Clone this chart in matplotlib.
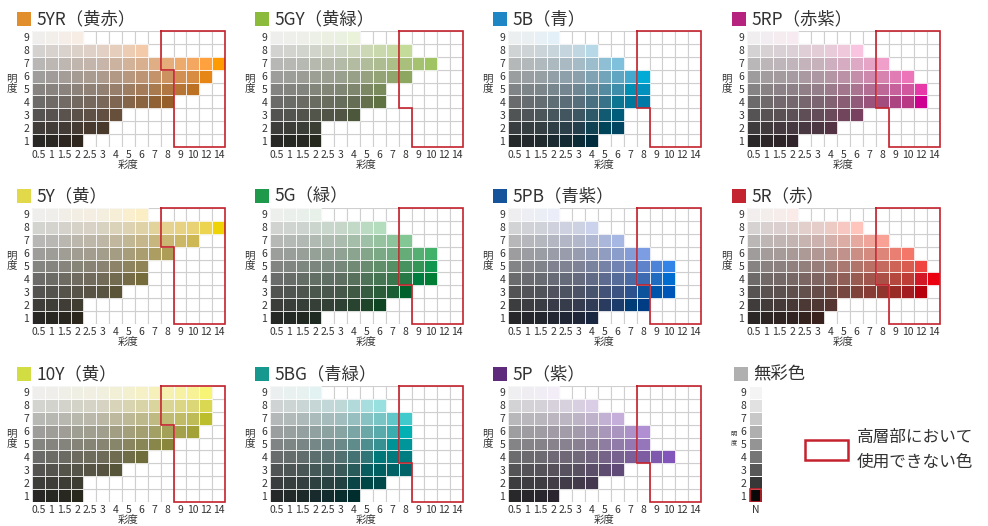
import numpy as np
import matplotlib
matplotlib.use('Agg')
import matplotlib.pyplot as plt
import matplotlib.transforms as mtransforms
from matplotlib.patches import Rectangle

plt.rcParams['font.family'] = ['Noto Sans CJK JP', 'DejaVu Sans']

# Munsell grid: chroma columns and value rows
chroma_labels = ['0.5', '1', '1.5', '2', '2.5', '3', '4', '5', '6', '7', '8', '9', '10', '12', '14']
chroma_vals = [0.5, 1, 1.5, 2, 2.5, 3, 4, 5, 6, 7, 8, 9, 10, 12, 14]
value_levels = [1, 2, 3, 4, 5, 6, 7, 8, 9]

hue_codes = ['5YR', '5GY', '5B', '5RP', '5Y', '5G', '5PB', '5R', '10Y', '5BG', '5P']
hue_names = ['黄赤', '黄緑', '青', '赤紫', '黄', '緑', '青紫', '赤', '黄', '青緑', '紫']

# highest chroma shown for value 1..9
max_5YR = [2, 3, 4, 8, 10, 12, 14, 6, 2]
max_5GY = [2, 2, 4, 6, 6, 8, 10, 8, 4]
max_5B = [4, 6, 6, 8, 8, 8, 6, 4, 2]
max_5RP = [2, 4, 6, 12, 12, 10, 8, 6, 2]
max_5Y = [2, 2, 4, 6, 6, 8, 10, 14, 6]
max_5G = [2, 6, 8, 10, 10, 10, 8, 6, 2]
max_5PB = [4, 8, 10, 10, 10, 8, 6, 4, 2]
max_5R = [3, 4, 12, 14, 12, 10, 8, 6, 2]
max_10Y = [2, 2, 4, 6, 8, 10, 12, 12, 12]
max_5BG = [4, 6, 8, 8, 8, 8, 8, 6, 2]
max_5P = [2, 4, 6, 10, 8, 8, 6, 4, 2]
max_chroma = [max_5YR, max_5GY, max_5B, max_5RP, max_5Y, max_5G,
              max_5PB, max_5R, max_10Y, max_5BG, max_5P]

# value from which chroma 8 is already not usable
limit_value = [7, 4, 4, 4, 7, 4, 4, 4, 7, 4, 4]

# achromatic scale N1..N9
neutral_gray = [8, 55, 88, 118, 148, 175, 200, 225, 244]

# styling
hue_angle = [66, 122, 236, 345, 95, 150, 280, 33, 104, 198, 310]
swatch = ['#e08f2c', '#8cbb3c', '#1f86c6', '#b5237e', '#e1d94a', '#1f9a4c',
          '#15549a', '#c42430', '#d2dc43', '#17988f', '#5e2a7c']
red = '#c4232d'
txt = '#333333'

W, H = 988, 526
fig = plt.figure(figsize=(W / 100, H / 100), dpi=100)


def px_axes(left, top, w, h):
    return fig.add_axes([left / W, 1 - (top + h) / H, w / W, h / H])


def lab_to_rgb(L, a, b):
    fy = (L + 16) / 116
    fx = fy + a / 500
    fz = fy - b / 200

    def finv(t):
        return t ** 3 if t > 6 / 29 else 3 * (6 / 29) ** 2 * (t - 4 / 29)
    X, Y, Z = 0.95047 * finv(fx), finv(fy), 1.08883 * finv(fz)
    r = 3.2406 * X - 1.5372 * Y - 0.4986 * Z
    g = -0.9689 * X + 1.8758 * Y + 0.0415 * Z
    bb = 0.0557 * X - 0.2040 * Y + 1.0570 * Z
    out = []
    for c in (r, g, bb):
        c = min(max(c, 0), 1)
        c = 12.92 * c if c <= 0.0031308 else 1.055 * c ** (1 / 2.4) - 0.055
        out.append(min(max(c, 0), 1))
    return tuple(out)


def cell_color(angle, value, chroma):
    # approximate look of the printed Munsell chips
    L = 6 + 9.8 * value
    C = chroma * (2.5 + 0.3 * chroma) * (1.3 - 0.05 * value)
    h = np.radians(angle)
    return lab_to_rgb(L, C * np.cos(h), C * np.sin(h))


lefts = [32, 270, 508, 747]
tops = [31, 208, 386]
gw, gh = 193, 116
xs = np.arange(len(chroma_vals))


def title(ax_left, ax_top, label, color):
    fig.add_artist(Rectangle(((ax_left - 15) / W, 1 - (ax_top - 5) / H), 14 / W, 14 / H,
                             transform=fig.transFigure, facecolor=color, edgecolor='none'))
    fig.text((ax_left + 4) / W, 1 - (ax_top - 12) / H, label, fontsize=12.5,
             color=txt, ha='left', va='center')


for i, code in enumerate(hue_codes):
    left = lefts[i % 4]
    top = tops[i // 4]
    ax = px_axes(left, top, gw, gh)
    # empty grid
    for v in value_levels:
        ax.bar(xs, 1, bottom=v - 0.5, width=1, color='white', edgecolor='#cfcfcf', linewidth=0.8)
    # colored cells
    for v, mc in zip(value_levels, max_chroma[i]):
        n = sum(c <= mc for c in chroma_vals)
        cols = [cell_color(hue_angle[i], v, c) for c in chroma_vals[:n]]
        ax.bar(xs[:n], 1, bottom=v - 0.5, width=1, color=cols,
               edgecolor=(1, 1, 1, 0.75), linewidth=0.7)
    # region not usable for high-rise parts
    k = chroma_vals.index(8)
    lv = limit_value[i]
    ox = [k - 0.5, xs[-1] + 0.5, xs[-1] + 0.5, k + 0.5, k + 0.5, k - 0.5, k - 0.5]
    oy = [9.5, 9.5, 0.5, 0.5, lv - 0.5, lv - 0.5, 9.5]
    ax.plot(ox, oy, color=red, linewidth=1.2, clip_on=False, solid_joinstyle='miter')

    ax.set_xlim(-0.5, len(chroma_vals) - 0.5)
    ax.set_ylim(0.5, 9.5)
    ax.set_xticks(xs)
    ax.set_xticklabels(chroma_labels)
    ax.set_yticks(value_levels)
    ax.tick_params(length=0, labelsize=7.5, labelcolor=txt, pad=2)
    for s in ax.spines.values():
        s.set_visible(False)
    ax.set_xlabel('彩度', fontsize=7.5, color=txt, labelpad=0)
    trans = mtransforms.blended_transform_factory(ax.transAxes, ax.transData)
    ax.text(-0.105, 5.45, '明\n度', transform=trans, fontsize=7.5, color=txt,
            ha='center', va='center', linespacing=0.95)
    title(left, top, f'{code}（{hue_names[i]}）', swatch[i])

# achromatic column
left, top = 749, 386
ax = px_axes(left, top, 13, gh)
ax.bar([0] * 9, 1, bottom=[v - 0.5 for v in value_levels], width=1,
       color=[str(g / 255) for g in neutral_gray], edgecolor='white', linewidth=0.7)
ax.bar([0], 1, bottom=0.5, width=0.9, color='none', edgecolor=red, linewidth=1.2)
ax.set_xlim(-0.5, 0.5)
ax.set_ylim(0.5, 9.5)
ax.set_xticks([0])
ax.set_xticklabels(['N'])
ax.set_yticks(value_levels)
ax.tick_params(length=0, labelsize=7.5, labelcolor=txt, pad=2)
for s in ax.spines.values():
    s.set_visible(False)
trans = mtransforms.blended_transform_factory(ax.transAxes, ax.transData)
ax.text(-1.15, 5.45, '明\n度', transform=trans, fontsize=4.5, color=txt,
        ha='center', va='center', linespacing=0.95)
title(left, top, '無彩色', '#b0b0b0')

# legend
fig.add_artist(Rectangle((805 / W, 1 - 460 / H), 43 / W, 20 / H, transform=fig.transFigure,
                         facecolor='white', edgecolor=red, linewidth=1.8))
fig.text(857 / W, 1 - 437 / H, '高層部において', fontsize=12, color=txt, ha='left', va='center')
fig.text(857 / W, 1 - 462 / H, '使用できない色', fontsize=12, color=txt, ha='left', va='center')

fig.savefig('out.png', dpi=100, facecolor='white')
